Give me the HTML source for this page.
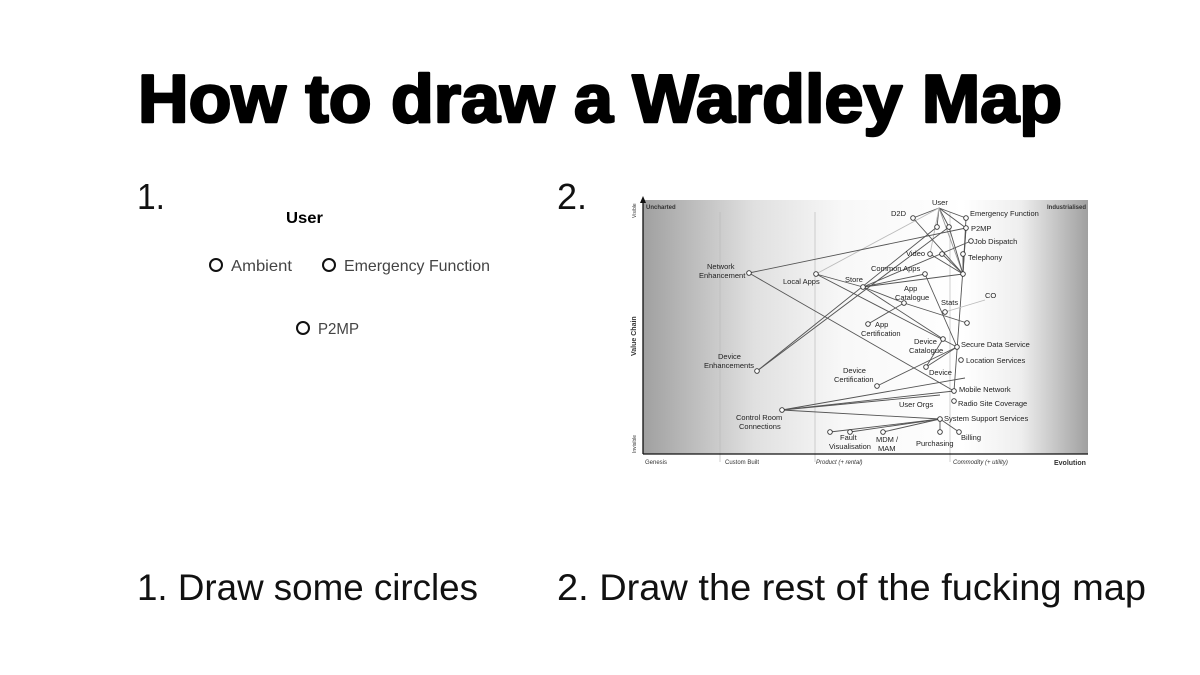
<!DOCTYPE html>
<html><head><meta charset="utf-8"><style>
html,body{margin:0;padding:0;background:#fff}
svg{display:block}
text{font-family:"Liberation Sans",sans-serif}
</style></head><body>
<svg width="1200" height="675" viewBox="0 0 1200 675" xmlns="http://www.w3.org/2000/svg">
<defs>
<linearGradient id="g" x1="0" x2="1" y1="0" y2="0">
<stop offset="0" stop-color="#a0a0a0"/>
<stop offset="0.25" stop-color="#e0e0e0"/>
<stop offset="0.45" stop-color="#f8f8f8"/>
<stop offset="0.72" stop-color="#ffffff"/>
<stop offset="0.85" stop-color="#eeeeee"/>
<stop offset="1" stop-color="#a0a0a0"/>
</linearGradient>
</defs>
<rect width="1200" height="675" fill="#fff"/>
<text x="138" y="122" font-size="68" font-weight="bold" stroke="#000" stroke-width="2.5" stroke-linejoin="round" textLength="924" lengthAdjust="spacingAndGlyphs">How to draw a Wardley Map</text>
<text x="137" y="209" font-size="36" fill="#111" textLength="28" lengthAdjust="spacingAndGlyphs">1.</text>
<text x="557" y="209" font-size="36" fill="#111" textLength="30" lengthAdjust="spacingAndGlyphs">2.</text>
<text x="286" y="223" font-size="16" font-weight="bold" textLength="37" lengthAdjust="spacingAndGlyphs">User</text>
<g fill="none" stroke="#111" stroke-width="2"><circle cx="216" cy="265" r="6"/><circle cx="329" cy="265" r="6"/><circle cx="303" cy="328" r="6"/></g>
<g font-size="16" fill="#444">
<text x="231" y="271" textLength="61" lengthAdjust="spacingAndGlyphs">Ambient</text>
<text x="344" y="271" textLength="146" lengthAdjust="spacingAndGlyphs">Emergency Function</text>
<text x="318" y="334" textLength="41" lengthAdjust="spacingAndGlyphs">P2MP</text>
</g>
<text x="137" y="600" font-size="37" fill="#111" textLength="341" lengthAdjust="spacingAndGlyphs">1. Draw some circles</text>
<text x="557" y="600" font-size="37" fill="#111" textLength="589" lengthAdjust="spacingAndGlyphs">2. Draw the rest of the fucking map</text>

<!-- map -->
<rect x="643" y="200" width="445" height="254" fill="url(#g)"/>
<g stroke="#bbb" stroke-width="0.7"><line x1="720" y1="212" x2="720" y2="462"/><line x1="815" y1="212" x2="815" y2="462"/><line x1="950" y1="212" x2="950" y2="462"/></g>
<g stroke="#111" stroke-width="1.3"><line x1="643" y1="454" x2="1088" y2="454"/><line x1="643" y1="454" x2="643" y2="200"/></g>
<polygon points="640,203 643,196 646,203" fill="#111"/>
<g stroke="#555" stroke-width="0.9" fill="none">
<line x1="939" y1="208" x2="913" y2="218"/><line x1="939" y1="208" x2="966" y2="218"/><line x1="939" y1="208" x2="937" y2="227"/><line x1="939" y1="208" x2="949" y2="227"/><line x1="939" y1="208" x2="966" y2="228"/>
<line x1="939" y1="208" x2="963" y2="274" stroke="#999"/><line x1="939" y1="208" x2="816" y2="274" stroke="#bbb"/><line x1="939" y1="208" x2="930" y2="254" stroke="#bbb"/>
<line x1="913" y1="218" x2="963" y2="274"/><line x1="949" y1="227" x2="963" y2="274"/><line x1="966" y1="228" x2="963" y2="274"/><line x1="966" y1="218" x2="963" y2="274"/>
<line x1="930" y1="254" x2="963" y2="274"/><line x1="942" y1="254" x2="963" y2="274"/><line x1="963" y1="254" x2="963" y2="274"/>
<line x1="749" y1="273" x2="966" y2="228"/><line x1="749" y1="273" x2="954" y2="391"/>
<line x1="757" y1="371" x2="937" y2="227"/><line x1="757" y1="371" x2="949" y2="227"/>
<line x1="863" y1="287" x2="963" y2="274"/><line x1="863" y1="287" x2="925" y2="274"/><line x1="863" y1="287" x2="971" y2="241"/><line x1="863" y1="287" x2="943" y2="339"/><line x1="863" y1="287" x2="904" y2="303"/>
<line x1="816" y1="274" x2="863" y2="287"/><line x1="816" y1="274" x2="957" y2="347"/>
<line x1="904" y1="303" x2="967" y2="323"/><line x1="904" y1="303" x2="868" y2="324"/>
<line x1="925" y1="274" x2="957" y2="347"/><line x1="966" y1="228" x2="954" y2="391"/>
<line x1="943" y1="339" x2="926" y2="367"/><line x1="957" y1="347" x2="926" y2="367"/><line x1="957" y1="347" x2="877" y2="386"/>
<line x1="782" y1="410" x2="954" y2="391"/><line x1="782" y1="410" x2="965" y2="378"/><line x1="782" y1="410" x2="940" y2="419"/><line x1="782" y1="410" x2="940" y2="395"/>
<line x1="940" y1="419" x2="830" y2="432"/><line x1="940" y1="419" x2="850" y2="432"/><line x1="940" y1="419" x2="883" y2="432"/><line x1="940" y1="419" x2="940" y2="432"/><line x1="940" y1="419" x2="959" y2="432"/>
<line x1="945" y1="312" x2="985" y2="300" stroke="#bbb"/>
</g>
<g fill="#fff" stroke="#333" stroke-width="0.9">
<circle cx="913" cy="218" r="2.3"/><circle cx="966" cy="218" r="2.3"/><circle cx="937" cy="227" r="2.3"/><circle cx="949" cy="227" r="2.3"/><circle cx="966" cy="228" r="2.3"/><circle cx="971" cy="241" r="2.3"/><circle cx="930" cy="254" r="2.3"/><circle cx="942" cy="254" r="2.3"/><circle cx="963" cy="254" r="2.3"/><circle cx="963" cy="274" r="2.3"/><circle cx="925" cy="274" r="2.3"/><circle cx="749" cy="273" r="2.3"/><circle cx="816" cy="274" r="2.3"/><circle cx="863" cy="287" r="2.3"/><circle cx="904" cy="303" r="2.3"/><circle cx="945" cy="312" r="2.3"/><circle cx="967" cy="323" r="2.3"/><circle cx="868" cy="324" r="2.3"/><circle cx="943" cy="339" r="2.3"/><circle cx="957" cy="347" r="2.3"/><circle cx="961" cy="360" r="2.3"/><circle cx="926" cy="367" r="2.3"/><circle cx="757" cy="371" r="2.3"/><circle cx="877" cy="386" r="2.3"/><circle cx="954" cy="391" r="2.3"/><circle cx="954" cy="401" r="2.3"/><circle cx="782" cy="410" r="2.3"/><circle cx="940" cy="419" r="2.3"/><circle cx="830" cy="432" r="2.3"/><circle cx="850" cy="432" r="2.3"/><circle cx="883" cy="432" r="2.3"/><circle cx="940" cy="432" r="2.3"/><circle cx="959" cy="432" r="2.3"/>
</g>
<g font-size="7.5" fill="#222">
<text x="932" y="205">User</text><text x="891" y="216">D2D</text><text x="970" y="216">Emergency Function</text><text x="971" y="231">P2MP</text><text x="974" y="244">Job Dispatch</text><text x="906" y="256">Video</text><text x="968" y="260">Telephony</text><text x="871" y="271">Common Apps</text>
<text x="707" y="269">Network</text><text x="699" y="278">Enhancement</text><text x="783" y="284">Local Apps</text><text x="845" y="282">Store</text><text x="904" y="291">App</text><text x="895" y="300">Catalogue</text><text x="941" y="305">Stats</text><text x="985" y="298">CO</text>
<text x="875" y="327">App</text><text x="861" y="336">Certification</text><text x="914" y="344">Device</text><text x="909" y="353">Catalogue</text><text x="961" y="347">Secure Data Service</text><text x="966" y="363">Location Services</text><text x="929" y="375">Device</text>
<text x="718" y="359">Device</text><text x="704" y="368">Enhancements</text><text x="843" y="373">Device</text><text x="834" y="382">Certification</text><text x="959" y="392">Mobile Network</text><text x="958" y="406">Radio Site Coverage</text><text x="899" y="407">User Orgs</text>
<text x="736" y="420">Control Room</text><text x="739" y="429">Connections</text><text x="944" y="421">System Support Services</text><text x="840" y="440">Fault</text><text x="829" y="449">Visualisation</text><text x="876" y="442">MDM /</text><text x="878" y="451">MAM</text><text x="916" y="446">Purchasing</text><text x="961" y="440">Billing</text>
</g>
<g font-size="6" fill="#333">
<text x="646" y="209" font-weight="bold">Uncharted</text><text x="1047" y="209" font-weight="bold">Industrialised</text>
<text x="645" y="464">Genesis</text><text x="725" y="464">Custom Built</text><text x="816" y="464" font-style="italic">Product (+ rental)</text><text x="953" y="464" font-style="italic">Commodity (+ utility)</text><text x="1054" y="465" font-weight="bold" font-size="7">Evolution</text>
<text transform="translate(636,356) rotate(-90)" font-size="7" font-weight="bold">Value Chain</text>
<text transform="translate(636,218) rotate(-90)" font-size="5">Visible</text>
<text transform="translate(636,453) rotate(-90)" font-size="5">Invisible</text>
</g>
</svg>
</body></html>
